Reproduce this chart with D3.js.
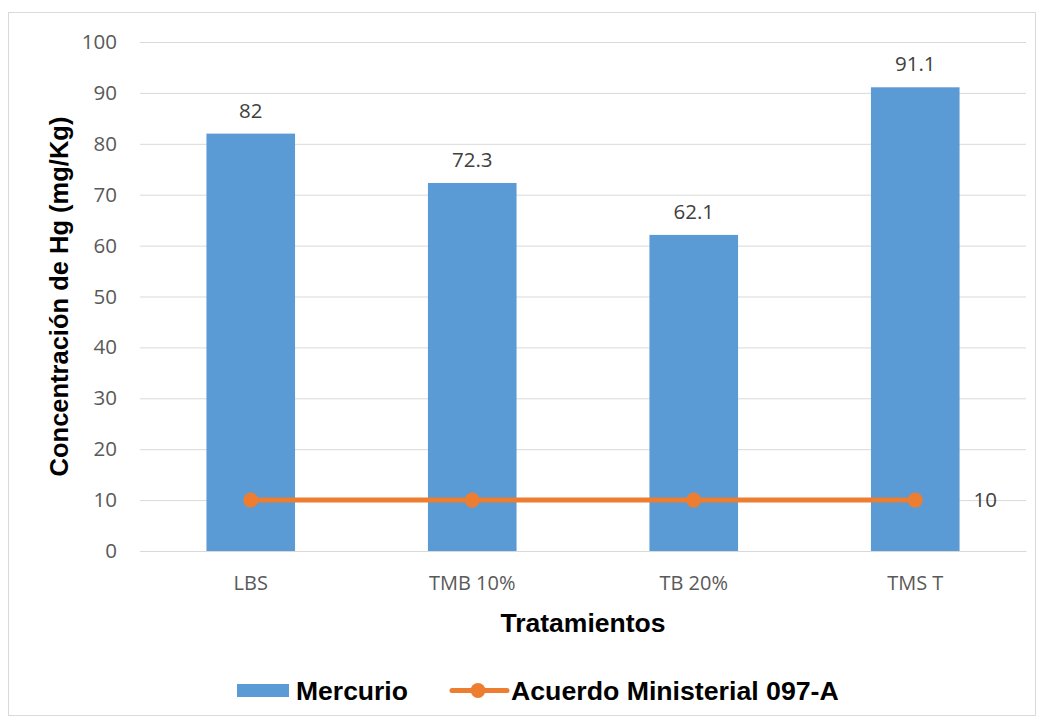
<!DOCTYPE html>
<html>
<head>
<meta charset="utf-8">
<script src="https://cdn.jsdelivr.net/npm/d3@7"></script>
<style>
  body { margin: 0; background: #fff; }
  svg { display: block; }
  text { font-family: "Open Sans", "DejaVu Sans", sans-serif; }
  .bold { font-family: "Liberation Sans", Arial, sans-serif; font-weight: bold; fill: #000; }
</style>
</head>
<body>
<svg id="svg" width="1043" height="722"></svg>
<script>
var categories = ["LBS", "TMB 10%", "TB 20%", "TMS T"];
var mercurio = [82, 72.3, 62.1, 91.1];
var acuerdo = [10, 10, 10, 10];
var yTicks = [0, 10, 20, 30, 40, 50, 60, 70, 80, 90, 100];

var svg = d3.select("#svg");
var margin = {top: 42, right: 17, bottom: 171, left: 140},
    width = 1043 - margin.left - margin.right,
    height = 722 - margin.top - margin.bottom;

// chart border
svg.append("rect")
  .attr("x", 8.5).attr("y", 12.5)
  .attr("width", 1027).attr("height", 703)
  .attr("fill", "#fff").attr("stroke", "#d9d9d9");

var x = d3.scaleBand().domain(categories).range([0, width]).paddingInner(0.6).paddingOuter(0.3);
var y = d3.scaleLinear().domain([0, 100]).range([height, 0]);

var g = svg.append("g").attr("transform", "translate(" + margin.left + "," + margin.top + ")");

g.append("g")
  .call(d3.axisLeft(y).tickValues(yTicks).tickSize(-width).tickPadding(23))
  .call(function(a) {
    a.select(".domain").remove();
    a.selectAll("line").attr("stroke", "#d9d9d9").attr("stroke-width", 1);
    a.selectAll("text").attr("fill", "#595959").style("font-size", "20.5px");
  });

g.append("g")
  .attr("transform", "translate(0," + height + ")")
  .call(d3.axisBottom(x).tickSize(0).tickPadding(25))
  .call(function(a) {
    a.select(".domain").attr("stroke", "#d9d9d9");
    a.selectAll("text").attr("fill", "#595959").style("font-size", "20px");
  });

g.selectAll(".bar").data(mercurio).enter().append("rect")
  .attr("x", function(d, i) { return x(categories[i]); })
  .attr("y", function(d) { return y(d); })
  .attr("width", x.bandwidth())
  .attr("height", function(d) { return height - y(d); })
  .attr("fill", "#5b9bd5");

g.selectAll(".blabel").data(mercurio).enter().append("text")
  .attr("x", function(d, i) { return x(categories[i]) + x.bandwidth() / 2; })
  .attr("y", function(d) { return y(d) - 16; })
  .attr("text-anchor", "middle")
  .attr("fill", "#404040")
  .style("font-size", "20.5px")
  .text(function(d) { return d; });

var line = d3.line()
  .x(function(d, i) { return x(categories[i]) + x.bandwidth() / 2; })
  .y(function(d) { return y(d); });

g.append("path").datum(acuerdo)
  .attr("fill", "none").attr("stroke", "#ed7d31")
  .attr("stroke-width", 5).attr("stroke-linecap", "round")
  .attr("d", line);

g.selectAll(".pt").data(acuerdo).enter().append("circle")
  .attr("cx", function(d, i) { return x(categories[i]) + x.bandwidth() / 2; })
  .attr("cy", function(d) { return y(d); })
  .attr("r", 7.5).attr("fill", "#ed7d31");

g.append("text")
  .attr("x", x(categories[3]) + x.bandwidth() / 2 + 70)
  .attr("y", y(acuerdo[3]) + 7)
  .attr("text-anchor", "middle")
  .attr("fill", "#404040")
  .style("font-size", "20.5px")
  .text(acuerdo[3]);

// axis titles
svg.append("text").attr("class", "bold")
  .attr("transform", "translate(68," + (margin.top + height / 2) + ") rotate(-90)")
  .attr("text-anchor", "middle")
  .style("font-size", "25.5px")
  .text("Concentración de Hg (mg/Kg)");

svg.append("text").attr("class", "bold")
  .attr("x", margin.left + width / 2).attr("y", 632)
  .attr("text-anchor", "middle")
  .style("font-size", "26.5px")
  .text("Tratamientos");

// legend
var lg = svg.append("g").attr("transform", "translate(0,690.5)");
lg.append("rect").attr("x", 237).attr("y", -6.5).attr("width", 52).attr("height", 13).attr("fill", "#5b9bd5");
lg.append("text").attr("class", "bold").attr("x", 296).attr("y", 9.5)
  .style("font-size", "26.5px").text("Mercurio");
lg.append("line").attr("x1", 452).attr("x2", 507).attr("y1", 0).attr("y2", 0)
  .attr("stroke", "#ed7d31").attr("stroke-width", 5).attr("stroke-linecap", "round");
lg.append("circle").attr("cx", 478).attr("cy", 0).attr("r", 7.5).attr("fill", "#ed7d31");
lg.append("text").attr("class", "bold").attr("x", 511).attr("y", 9.5)
  .style("font-size", "26.7px").text("Acuerdo Ministerial 097-A");
</script>
</body>
</html>
